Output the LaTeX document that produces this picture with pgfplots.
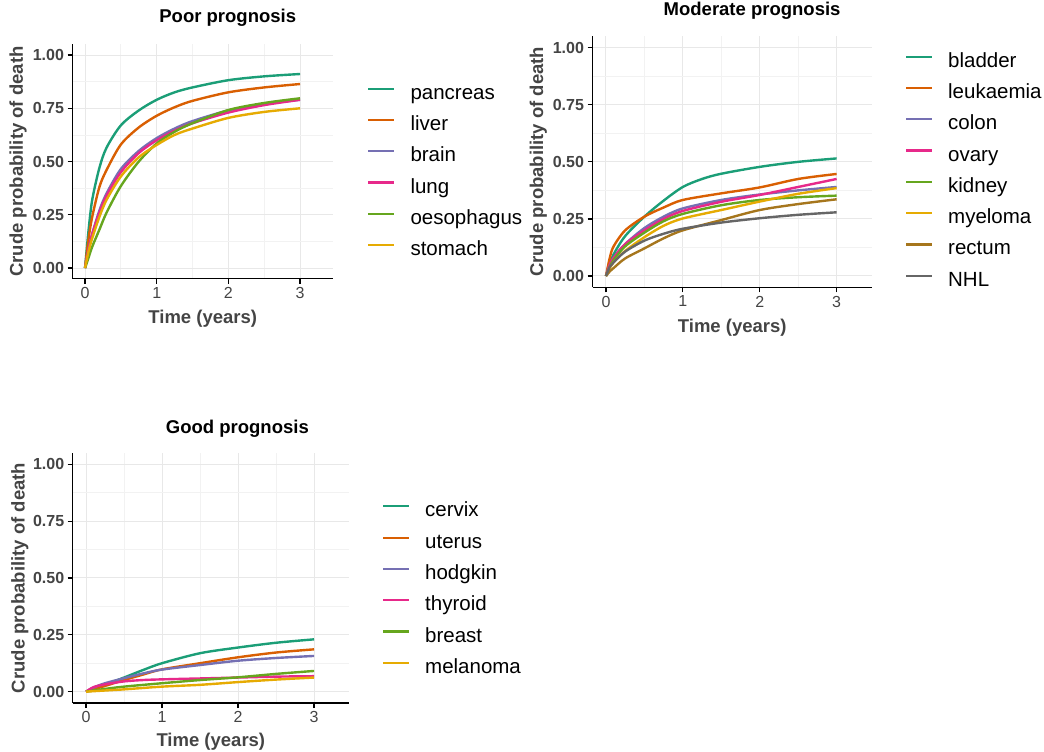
\documentclass[border=0pt]{standalone}
\usepackage{pgfplots}
\pgfplotsset{compat=1.18}
\usepackage{fontspec}
\setmainfont{Liberation Sans}
\definecolor{c1}{HTML}{1B9E77}
\definecolor{c2}{HTML}{D95F02}
\definecolor{c3}{HTML}{7570B3}
\definecolor{c4}{HTML}{E7298A}
\definecolor{c5}{HTML}{66A61E}
\definecolor{c6}{HTML}{E6AB02}
\definecolor{c7}{HTML}{A6761D}
\definecolor{c8}{HTML}{666666}
\definecolor{txt}{HTML}{444444}
\pgfplotsset{
 prog/.style={
  scale only axis, anchor=south west,
  xmin=-0.175, xmax=3.46, ymin=-0.05, ymax=1.05,
  axis x line*=bottom, axis y line*=left,
  axis line style={-, black, line width=1.3pt},
  xtick={0,1,2,3}, ytick={0,0.25,0.5,0.75,1},
  minor xtick={0.5,1.5,2.5}, minor ytick={0.125,0.375,0.625,0.875},
  grid=both,
  major grid style={draw=black!9, line width=1pt},
  minor grid style={draw=black!5, line width=0.8pt},
  tick align=outside, major tick length=5pt, minor tick length=0pt,
  tick style={black, line width=1.2pt},
  /pgf/number format/assume math mode=true,
  yticklabel style={font=\bfseries\fontsize{16}{16}\selectfont, text=txt,
    /pgf/number format/fixed, /pgf/number format/fixed zerofill, /pgf/number format/precision=2},
  xticklabel style={font=\fontsize{16}{16}\selectfont, text=txt},
  xlabel={Time (years)}, ylabel={Crude probability of death},
  every axis y label/.style={rotate=90, anchor=center, font=\bfseries\fontsize{18.5}{20}\selectfont, text=txt},
  every axis x label/.style={anchor=base, font=\bfseries\fontsize{18.5}{20}\selectfont, text=txt},
  title style={font=\bfseries\fontsize{18.5}{20}\selectfont, anchor=base},
  legend style={draw=none, fill=none, inner sep=0pt, outer sep=0pt, anchor=north west,
    font=\fontsize{20.5}{21}\selectfont, row sep=13.3pt, column sep=15pt,
    nodes={inner sep=0pt, text height=14pt, text depth=4pt}},
  legend cell align=left,
  legend image code/.code={\draw[#1, line width=2.2pt] (0pt,5.5pt) -- (26pt,5.5pt);},
  every axis plot/.append style={line width=2.4pt, no markers, smooth, tension=0.5},
 }
}
\begin{document}
\begin{tikzpicture}
\useasboundingbox (0,0) rectangle (1044pt,-752pt);
% Poor prognosis
\begin{axis}[prog, at={(72.5pt,-278.7pt)}, width=260.5pt, height=234.3pt,
  title={Poor prognosis},
  title style={at={(axis description cs:0.596,1)}, yshift=15.7pt},
  xlabel style={at={(axis description cs:0.5,0)}, yshift=-44.3pt},
  ylabel style={at={(axis description cs:-0.209,0.5)}},
  legend style={at={(axis description cs:1.1317,0.8263)}}]
\addplot[c1] coordinates {(0,0) (0.05,0.18) (0.1,0.32) (0.2,0.47) (0.3,0.565) (0.5,0.67) (0.75,0.74) (1,0.79) (1.25,0.825) (1.5,0.848) (2,0.882) (2.5,0.9) (3,0.911)};
\addplot[c2] coordinates {(0,0) (0.05,0.14) (0.1,0.24) (0.2,0.38) (0.3,0.46) (0.5,0.58) (0.75,0.66) (1,0.715) (1.25,0.755) (1.5,0.785) (2,0.825) (2.5,0.848) (3,0.864)};
\addplot[c3] coordinates {(0,0) (0.05,0.09) (0.1,0.16) (0.2,0.27) (0.3,0.35) (0.5,0.465) (0.75,0.55) (1,0.61) (1.25,0.655) (1.5,0.69) (2,0.74) (2.5,0.77) (3,0.79)};
\addplot[c4] coordinates {(0,0) (0.05,0.09) (0.1,0.16) (0.2,0.26) (0.3,0.34) (0.5,0.45) (0.75,0.54) (1,0.6) (1.25,0.645) (1.5,0.68) (2,0.73) (2.5,0.765) (3,0.79)};
\addplot[c5] coordinates {(0,0) (0.05,0.05) (0.1,0.1) (0.2,0.18) (0.3,0.26) (0.5,0.385) (0.75,0.5) (1,0.585) (1.25,0.64) (1.5,0.68) (2,0.742) (2.5,0.775) (3,0.797)};
\addplot[c6] coordinates {(0,0) (0.05,0.08) (0.1,0.14) (0.2,0.24) (0.3,0.32) (0.5,0.43) (0.75,0.52) (1,0.578) (1.25,0.625) (1.5,0.655) (2,0.705) (2.5,0.733) (3,0.75)};
\legend{pancreas,liver,brain,lung,oesophagus,stomach}
\end{axis}
% Moderate prognosis
\begin{axis}[prog, at={(592.5pt,-287.4pt)}, width=279.5pt, height=251.1pt,
  title={Moderate prognosis},
  title style={at={(axis description cs:0.571,1)}, yshift=15.3pt},
  xlabel style={at={(axis description cs:0.5,0)}, yshift=-44.9pt},
  ylabel style={at={(axis description cs:-0.194,0.5)}},
  legend style={at={(axis description cs:1.118,0.9331)}}]
\addplot[c1] coordinates {(0,0) (0.05,0.05) (0.1,0.095) (0.25,0.175) (0.5,0.26) (0.75,0.33) (1,0.39) (1.25,0.425) (1.5,0.448) (2,0.478) (2.5,0.5) (3,0.515)};
\addplot[c2] coordinates {(0,0) (0.05,0.08) (0.1,0.13) (0.25,0.2) (0.5,0.26) (0.75,0.3) (1,0.333) (1.5,0.362) (2,0.388) (2.5,0.425) (3,0.447)};
\addplot[c3] coordinates {(0,0) (0.05,0.05) (0.1,0.08) (0.25,0.14) (0.5,0.21) (0.75,0.26) (1,0.296) (1.5,0.333) (2,0.357) (2.5,0.375) (3,0.39)};
\addplot[c4] coordinates {(0,0) (0.05,0.05) (0.1,0.08) (0.25,0.14) (0.5,0.2) (0.75,0.25) (1,0.285) (1.5,0.325) (2,0.355) (2.5,0.39) (3,0.425)};
\addplot[c5] coordinates {(0,0) (0.05,0.04) (0.1,0.07) (0.25,0.13) (0.5,0.19) (0.75,0.24) (1,0.272) (1.5,0.31) (2,0.333) (2.5,0.345) (3,0.352)};
\addplot[c6] coordinates {(0,0) (0.05,0.035) (0.1,0.06) (0.25,0.11) (0.5,0.17) (0.75,0.22) (1,0.252) (1.5,0.289) (2,0.326) (2.5,0.36) (3,0.385)};
\addplot[c7] coordinates {(0,0) (0.05,0.02) (0.1,0.035) (0.25,0.077) (0.5,0.121) (0.75,0.165) (1,0.2) (1.5,0.245) (2,0.289) (2.5,0.315) (3,0.336)};
\addplot[c8] coordinates {(0,0) (0.05,0.04) (0.1,0.06) (0.25,0.107) (0.5,0.155) (0.75,0.185) (1,0.207) (1.5,0.234) (2,0.253) (2.5,0.268) (3,0.279)};
\legend{bladder,leukaemia,colon,ovary,kidney,myeloma,rectum,NHL}
\end{axis}
% Good prognosis
\begin{axis}[prog, at={(72.7pt,-703pt)}, width=276.3pt, height=250.1pt,
  title={Good prognosis},
  title style={at={(axis description cs:0.596,1)}, yshift=13.7pt},
  xlabel style={at={(axis description cs:0.5,0)}, yshift=-43.7pt},
  ylabel style={at={(axis description cs:-0.191,0.5)}},
  legend style={at={(axis description cs:1.1194,0.8005)}}]
\addplot[c1] coordinates {(0,0) (0.25,0.03) (0.5,0.062) (0.75,0.095) (1,0.125) (1.5,0.169) (2,0.194) (2.5,0.215) (3,0.23)};
\addplot[c2] coordinates {(0,0) (0.25,0.025) (0.5,0.051) (0.75,0.075) (1,0.098) (1.5,0.125) (2,0.151) (2.5,0.172) (3,0.186)};
\addplot[c3] coordinates {(0,0) (0.1,0.018) (0.25,0.037) (0.5,0.059) (0.75,0.08) (1,0.097) (1.5,0.117) (2,0.136) (2.5,0.148) (3,0.157)};
\addplot[c4] coordinates {(0,0) (0.1,0.02) (0.25,0.032) (0.5,0.045) (0.75,0.051) (1,0.054) (1.5,0.058) (2,0.062) (2.5,0.066) (3,0.068)};
\addplot[c5] coordinates {(0,0) (0.25,0.012) (0.5,0.022) (1,0.037) (1.5,0.051) (2,0.063) (2.5,0.078) (3,0.091)};
\addplot[c6] coordinates {(0,0) (0.25,0.005) (0.5,0.01) (1,0.022) (1.5,0.03) (2,0.042) (2.5,0.053) (3,0.062)};
\legend{cervix,uterus,hodgkin,thyroid,breast,melanoma}
\end{axis}
\end{tikzpicture}
\end{document}
